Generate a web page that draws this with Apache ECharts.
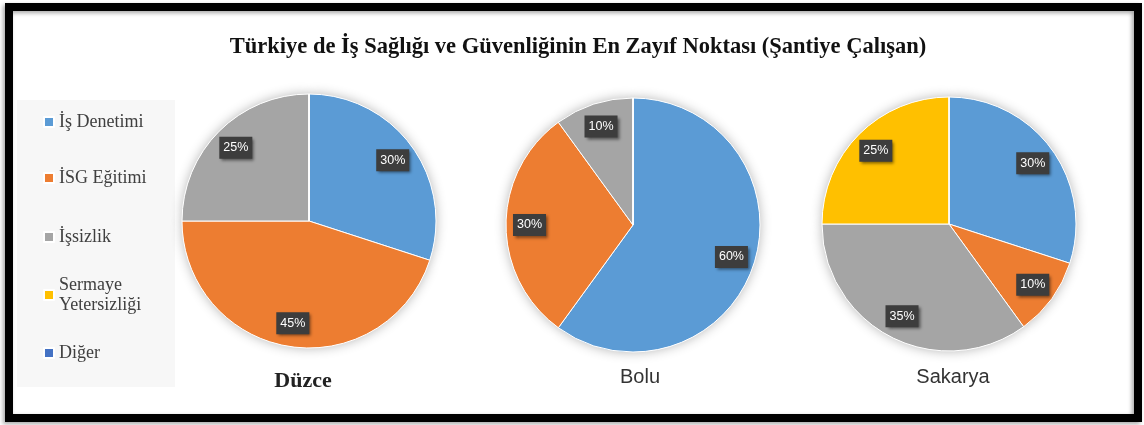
<!DOCTYPE html>
<html>
<head>
<meta charset="utf-8">
<script src="https://cdn.jsdelivr.net/npm/echarts@6/dist/echarts.min.js"></script>
<style>
  html, body { margin: 0; padding: 0; background: #fff; }
  #main { width: 1144px; height: 425px; }
</style>
</head>
<body>
<div id="main"></div>
<script>
// kategoriler ve il verileri (%)
const categories = ['İş Denetimi', 'İSG Eğitimi', 'İşsizlik', 'Sermaye Yetersizliği', 'Diğer'];
const cities = ['Düzce', 'Bolu', 'Sakarya'];
const duzce = [30, 45, 25, 0, 0];
const bolu = [60, 30, 10, 0, 0];
const sakarya = [30, 10, 35, 25, 0];
const palette = ['#5B9BD5', '#ED7D31', '#A5A5A5', '#FFC000', '#4472C4'];

const cityValues = [duzce, bolu, sakarya];
const centers = [[309, 221], [633, 225], [949, 224]];
const R = 127;

function pieData(values, withLabels) {
  return categories.map((name, i) => {
    let d = { name: name, value: values[i] };
    if (withLabels && values[i] === 0) d.label = { show: false };
    return d;
  });
}

let series = [];
cityValues.forEach((vals, k) => {
  // asil dilimler
  series.push({
    name: cities[k],
    type: 'pie',
    center: centers[k],
    radius: R,
    startAngle: 90,
    z: 2,
    silent: true,
    itemStyle: { borderColor: '#fff', borderWidth: 1 },
    label: { show: false },
    labelLine: { show: false },
    emphasis: { disabled: true },
    data: pieData(vals, false)
  });
  // golge
  series.push({
    type: 'pie',
    center: centers[k],
    radius: R,
    startAngle: 90,
    z: 1,
    silent: true,
    itemStyle: { color: '#fff', shadowBlur: 12, shadowColor: 'rgba(0,0,0,0.3)' },
    label: { show: false },
    labelLine: { show: false },
    emphasis: { disabled: true },
    data: pieData(vals, false)
  });
  // etiketler
  series.push({
    type: 'pie',
    center: centers[k],
    radius: [74, R],
    startAngle: 90,
    z: 3,
    silent: true,
    itemStyle: { color: 'rgba(0,0,0,0)', borderWidth: 0 },
    label: {
      show: true,
      position: 'inside',
      formatter: p => p.value + '%',
      color: '#fff',
      fontFamily: 'Liberation Sans',
      fontSize: 12.5,
      backgroundColor: '#3d3d3d',
      padding: [5, 4, 4, 4],
      shadowColor: 'rgba(0,0,0,0.5)',
      shadowBlur: 3,
      shadowOffsetX: 2,
      shadowOffsetY: 2
    },
    labelLine: { show: false },
    emphasis: { disabled: true },
    data: pieData(vals, true)
  });
});

const legendTops = [112, 168, 227, 265, 343];
const legends = categories.map((name, i) => ({
  data: [name],
  left: 43,
  top: legendTops[i],
  padding: 0,
  icon: 'rect',
  itemWidth: 10,
  itemHeight: 10,
  selectedMode: false,
  formatter: n => n.replace('Sermaye ', 'Sermaye\n'),
  textStyle: {
    fontFamily: 'Liberation Serif',
    fontSize: 18,
    lineHeight: 20,
    color: '#404040',
    padding: name.indexOf('Sermaye') === 0 ? [20, 0, 0, 0] : 0
  }
}));

const chart = echarts.init(document.getElementById('main'));
chart.setOption({
  animation: false,
  color: palette,
  legend: legends,
  graphic: [
    {
      type: 'rect', z: -10,
      shape: { x: 9, y: 7, width: 1129, height: 411 },
      style: { fill: 'none', stroke: '#000', lineWidth: 8, shadowBlur: 4, shadowColor: 'rgba(0,0,0,0.35)', shadowOffsetX: -2, shadowOffsetY: 2 }
    },
    {
      type: 'rect', z: -5,
      shape: { x: 17, y: 100, width: 158, height: 287 },
      style: { fill: '#f7f7f7' }
    },
    {
      type: 'text', x: 578, y: 47,
      style: { text: 'Türkiye de İş Sağlığı ve Güvenliğinin En Zayıf Noktası (Şantiye Çalışan)', align: 'center', verticalAlign: 'middle', fill: '#111', font: 'bold 22.5px "Liberation Serif"' }
    },
    {
      type: 'text', x: 303, y: 381,
      style: { text: cities[0], align: 'center', verticalAlign: 'middle', fill: '#222', font: 'bold 22px "Liberation Serif"' }
    },
    {
      type: 'text', x: 640, y: 377,
      style: { text: cities[1], align: 'center', verticalAlign: 'middle', fill: '#333', font: '20px "Liberation Sans"' }
    },
    {
      type: 'text', x: 953, y: 377,
      style: { text: cities[2], align: 'center', verticalAlign: 'middle', fill: '#333', font: '20px "Liberation Sans"' }
    }
  ],
  series: series
});
</script>
</body>
</html>
